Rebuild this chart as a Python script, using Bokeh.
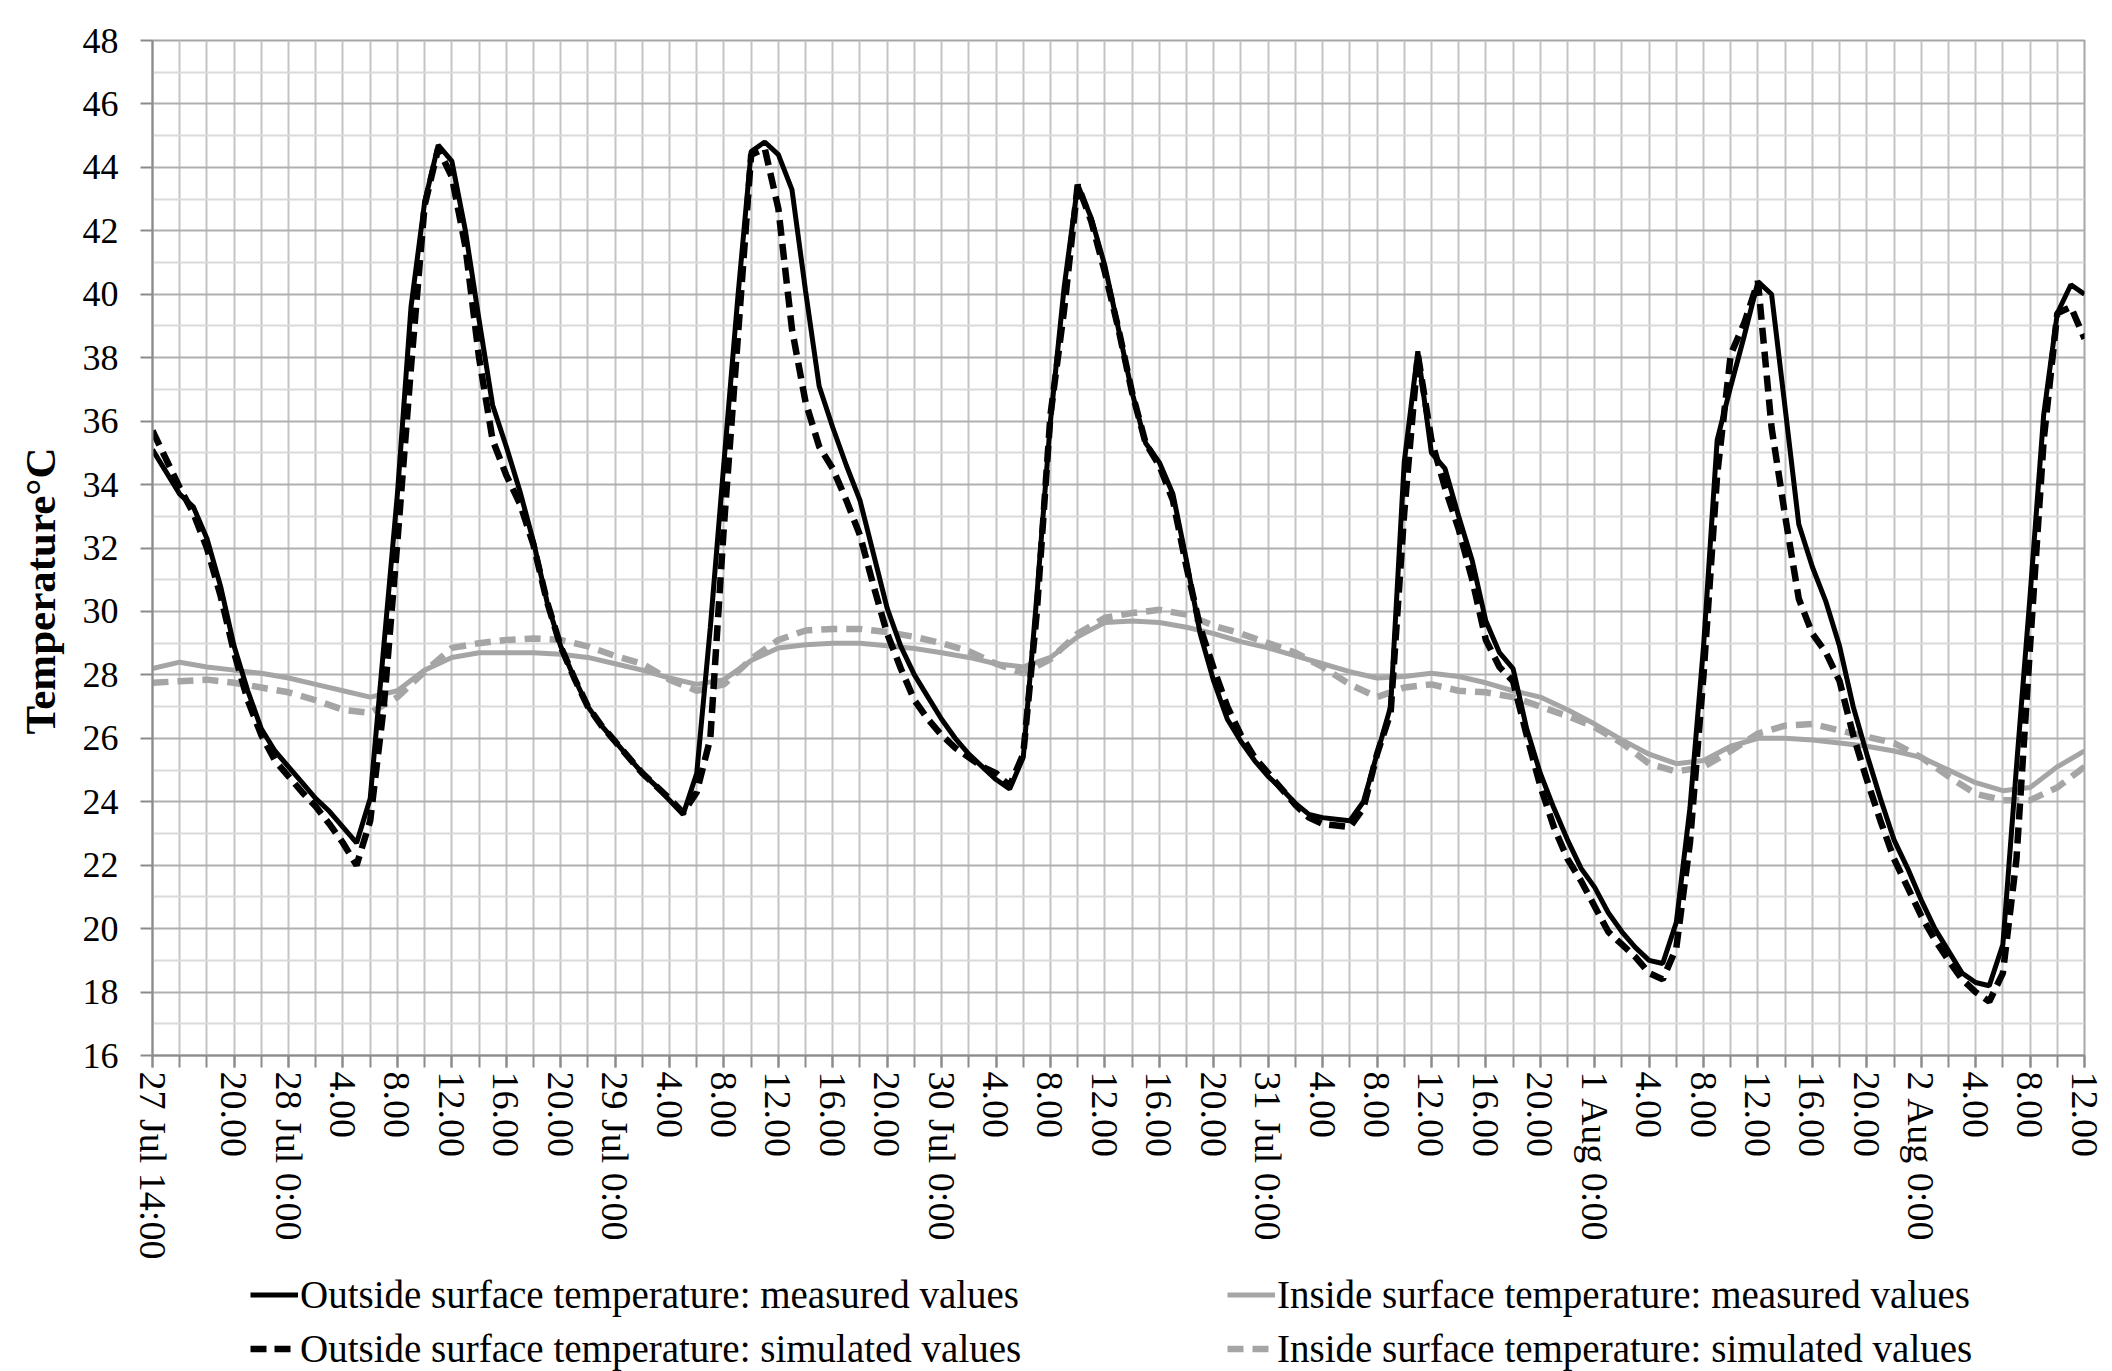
import math
from bokeh.plotting import figure
from bokeh.layouts import column
from bokeh.models import FixedTicker, Legend, LegendItem, Range1d, Title
from bokeh.embed import file_html
from bokeh.resources import INLINE

# ---------------- data (hours since 27 Jul 14:00) ----------------
hours = list(range(0, 143))

outside_measured = [
    35.1, 34.4, 33.7, 33.3, 32.3, 30.8, 28.9, 27.5, 26.3, 25.6,
    25.1, 24.6, 24.1, 23.7, 23.2, 22.7, 24.1, 28.9, 33.7, 39.6,
    42.9, 44.7, 44.2, 42.0, 39.2, 36.5, 35.2, 33.8, 32.2, 30.3,
    28.9, 27.9, 27.0, 26.4, 25.9, 25.4, 24.9, 24.5, 24.05, 23.6,
    24.9, 29.5, 34.7, 39.8, 44.5, 44.8, 44.4, 43.3, 40.1, 37.1,
    35.8, 34.6, 33.5, 31.8, 30.1, 28.9, 28.0, 27.3, 26.6, 26.0,
    25.5, 25.1, 24.7, 24.4, 25.4, 30.5, 36.0, 40.2, 43.45, 42.4,
    40.9, 38.9, 36.9, 35.3, 34.7, 33.7, 31.6, 29.3, 27.8, 26.6,
    25.9, 25.3, 24.8, 24.4, 23.95, 23.6, 23.5, 23.45, 23.4, 24.0,
    25.5, 27.0, 34.7, 38.2, 35.0, 34.5, 33.0, 31.6, 29.7, 28.7,
    28.2, 26.3, 24.9, 23.8, 22.8, 21.9, 21.3, 20.5, 19.9, 19.4,
    19.0, 18.9, 20.2, 23.8, 28.9, 35.4, 37.1, 38.7, 40.4, 40.0,
    36.4, 32.75, 31.4, 30.3, 28.9, 27.0, 25.5, 24.1, 22.8, 21.9,
    20.9, 20.0, 19.3, 18.6, 18.3, 18.2, 19.5, 25.1, 30.5, 36.2,
    39.4, 40.3, 40.0,
]

outside_simulated = [
    35.7, 34.8, 33.9, 33.1, 32.0, 30.5, 28.7, 27.2, 26.1, 25.3,
    24.8, 24.3, 23.85, 23.3, 22.7, 22.0, 23.4, 27.0, 32.2, 37.7,
    42.8, 44.6, 43.7, 41.5, 38.0, 35.4, 34.3, 33.4, 32.1, 30.3,
    28.9, 27.9, 27.0, 26.4, 25.9, 25.4, 24.9, 24.5, 24.1, 23.65,
    24.3, 26.0, 32.7, 38.5, 44.4, 44.6, 42.7, 38.9, 36.6, 35.2,
    34.5, 33.5, 32.4, 30.8, 29.3, 28.2, 27.2, 26.6, 26.1, 25.7,
    25.4, 25.1, 24.9, 24.5, 25.5, 30.0, 36.2, 39.5, 43.45, 42.3,
    40.7, 38.9, 36.9, 35.3, 34.6, 33.5, 31.4, 29.5, 28.2, 27.0,
    26.1, 25.4, 24.9, 24.4, 23.9, 23.5, 23.3, 23.25, 23.2, 23.8,
    25.5, 26.8, 33.1, 38.1, 35.4, 33.9, 32.6, 31.0, 29.1, 28.25,
    27.8, 26.1, 24.5, 23.2, 22.2, 21.5, 20.7, 19.9, 19.5, 19.1,
    18.6, 18.4, 19.4, 22.7, 28.0, 34.3, 38.1, 39.1, 40.4, 35.8,
    33.0, 30.4, 29.3, 28.7, 27.8, 26.1, 24.7, 23.4, 22.2, 21.3,
    20.4, 19.65, 19.0, 18.4, 18.0, 17.7, 18.6, 22.2, 28.9, 35.4,
    39.4, 39.6, 38.6,
]

inside_hours = list(range(0, 143, 2))

inside_measured = [
    28.2, 28.4, 28.25, 28.15, 28.05, 27.9, 27.7, 27.5, 27.3, 27.5,
    28.15, 28.55, 28.7, 28.7, 28.7, 28.65, 28.55, 28.35, 28.15, 27.9,
    27.7, 27.85, 28.45, 28.85, 28.95, 29.0, 29.0, 28.92, 28.83, 28.7,
    28.55, 28.35, 28.25, 28.55, 29.2, 29.65, 29.7, 29.65, 29.5, 29.3,
    29.05, 28.85, 28.6, 28.35, 28.1, 27.9, 27.95, 28.05, 27.95, 27.75,
    27.5, 27.3, 26.9, 26.45, 25.95, 25.5, 25.2, 25.3, 25.75, 26.0,
    26.0, 25.95, 25.85, 25.75, 25.6, 25.4, 25.0, 24.6, 24.35, 24.45,
    25.1, 25.6,
]

inside_simulated = [
    27.75, 27.8, 27.85, 27.75, 27.6, 27.45, 27.2, 26.9, 26.8, 27.3,
    28.1, 28.85, 29.0, 29.1, 29.15, 29.1, 28.9, 28.6, 28.35, 27.85,
    27.5, 27.7, 28.5, 29.1, 29.4, 29.45, 29.45, 29.35, 29.2, 29.0,
    28.75, 28.35, 28.05, 28.5, 29.3, 29.8, 29.95, 30.05, 29.9, 29.55,
    29.3, 29.0, 28.7, 28.25, 27.7, 27.3, 27.6, 27.7, 27.5, 27.45,
    27.3, 27.0, 26.7, 26.35, 25.85, 25.2, 24.95, 25.1, 25.6, 26.15,
    26.4, 26.45, 26.25, 26.05, 25.85, 25.4, 24.8, 24.25, 24.05, 24.05,
    24.45, 25.1,
]

x_tick_hours = [0, 6, 10, 14, 18, 22, 26, 30, 34, 38, 42, 46, 50, 54,
                58, 62, 66, 70, 74, 78, 82, 86, 90, 94, 98, 102,
                106, 110, 114, 118, 122, 126, 130, 134, 138, 142]
x_tick_labels = ["27 Jul 14:00", "20.00", "28 Jul 0:00", "4.00", "8.00", "12.00", "16.00", "20.00",
                 "29 Jul 0:00", "4.00", "8.00", "12.00", "16.00", "20.00",
                 "30 Jul 0:00", "4.00", "8.00", "12.00", "16.00", "20.00",
                 "31 Jul 0:00", "4.00", "8.00", "12.00", "16.00", "20.00",
                 "1 Aug 0:00", "4.00", "8.00", "12.00", "16.00", "20.00",
                 "2 Aug 0:00", "4.00", "8.00", "12.00"]
y_ticks = list(range(16, 49, 2))

series_names = ["Outside surface temperature: measured values",
                "Outside surface temperature: simulated values",
                "Inside surface temperature: measured values",
                "Inside surface temperature: simulated values"]

FONT = "Liberation Serif"
GRAY = "#a5a5a5"
STYLES = [dict(line_color="black", line_width=5),
          dict(line_color="black", line_width=6.5, line_dash="16 8"),
          dict(line_color=GRAY, line_width=5),
          dict(line_color=GRAY, line_width=6.5, line_dash="16 9")]

# ---------------- main chart ----------------
p = figure(width=2112, height=1268,
           x_range=Range1d(0, 142), y_range=Range1d(16, 48),
           output_backend="svg", toolbar_location=None,
           min_border_left=151, min_border_right=28,
           min_border_top=40, min_border_bottom=213)

p.background_fill_color = "white"
p.border_fill_color = "white"
p.outline_line_color = "#a6a6a6"
p.outline_line_width = 2

# grids
p.xgrid.ticker = FixedTicker(ticks=list(range(0, 143, 2)))
p.xgrid.grid_line_color = "#c4c4c4"
p.xgrid.grid_line_width = 2
p.ygrid.ticker = FixedTicker(ticks=y_ticks, minor_ticks=list(range(17, 48, 2)))
p.ygrid.grid_line_color = "#b0b0b0"
p.ygrid.grid_line_width = 2
p.ygrid.minor_grid_line_color = "#dadada"
p.ygrid.minor_grid_line_width = 2

# x axis
xa = p.xaxis[0]
xa.ticker = FixedTicker(ticks=x_tick_hours, minor_ticks=list(range(0, 143, 2)))
xa.major_label_overrides = {h: l for h, l in zip(x_tick_hours, x_tick_labels)}
xa.major_label_orientation = "vertical"
xa.major_label_text_font = FONT
xa.major_label_text_font_size = "38px"
xa.major_label_text_color = "black"
xa.major_label_standoff = 4
xa.axis_line_color = "#8c8c8c"
xa.axis_line_width = 2
xa.major_tick_line_color = "#8c8c8c"
xa.minor_tick_line_color = "#8c8c8c"
xa.major_tick_line_width = 2
xa.minor_tick_line_width = 2
xa.major_tick_out = 12
xa.major_tick_in = 0
xa.minor_tick_out = 12
xa.minor_tick_in = 0

# y axis
ya = p.yaxis[0]
ya.ticker = FixedTicker(ticks=y_ticks)
ya.major_label_text_font = FONT
ya.major_label_text_font_size = "36px"
ya.major_label_text_color = "black"
ya.major_label_standoff = 22
ya.axis_line_color = "#8c8c8c"
ya.axis_line_width = 2
ya.major_tick_line_color = "#8c8c8c"
ya.major_tick_line_width = 2
ya.major_tick_out = 12
ya.major_tick_in = 0
ya.minor_tick_out = 0
ya.minor_tick_in = 0

ytitle = Title(text="Temperature°C", align="left", offset=321, vertical_align="middle",
               standoff=30, text_font=FONT, text_font_style="bold",
               text_font_size="43px", text_color="black")
p.add_layout(ytitle, "left")

# lines (gray behind black)
p.line(inside_hours, inside_measured, **STYLES[2])
p.line(inside_hours, inside_simulated, **STYLES[3])
p.line(hours, outside_measured, **STYLES[0])
p.line(hours, outside_simulated, **STYLES[1])

# ---------------- legend strip ----------------
q = figure(width=2112, height=103, x_range=Range1d(0, 1), y_range=Range1d(0, 1),
           output_backend="svg", toolbar_location=None,
           x_axis_location=None, y_axis_location=None,
           min_border_left=151, min_border_right=28, min_border_top=0, min_border_bottom=0)
q.grid.visible = False
q.outline_line_color = None
q.background_fill_color = "white"
q.border_fill_color = "white"

# proxy renderers (same series, lying outside this strip's ranges) for the legend samples
lr = [q.line(hours, outside_measured, **STYLES[0]),
      q.line(hours, outside_simulated, **STYLES[1]),
      q.line(inside_hours, inside_measured, **STYLES[2]),
      q.line(inside_hours, inside_simulated, **STYLES[3])]

common = dict(border_line_alpha=0, background_fill_alpha=0, padding=0, margin=0,
              label_text_font=FONT, label_text_font_size="39px", label_text_color="black",
              glyph_width=48, glyph_height=43, label_height=43, label_standoff=2, spacing=9)
leg1 = Legend(items=[LegendItem(label=series_names[0], renderers=[lr[0]]),
                     LegendItem(label=series_names[1], renderers=[lr[1]])],
              location=(98, 0), **common)
leg2 = Legend(items=[LegendItem(label=series_names[2], renderers=[lr[2]]),
                     LegendItem(label=series_names[3], renderers=[lr[3]])],
              location=(1075, 0), **common)
q.add_layout(leg1, "center")
q.add_layout(leg2, "center")

layout = column(p, q, spacing=0)
open("out.html", "w").write(file_html(layout, INLINE))
